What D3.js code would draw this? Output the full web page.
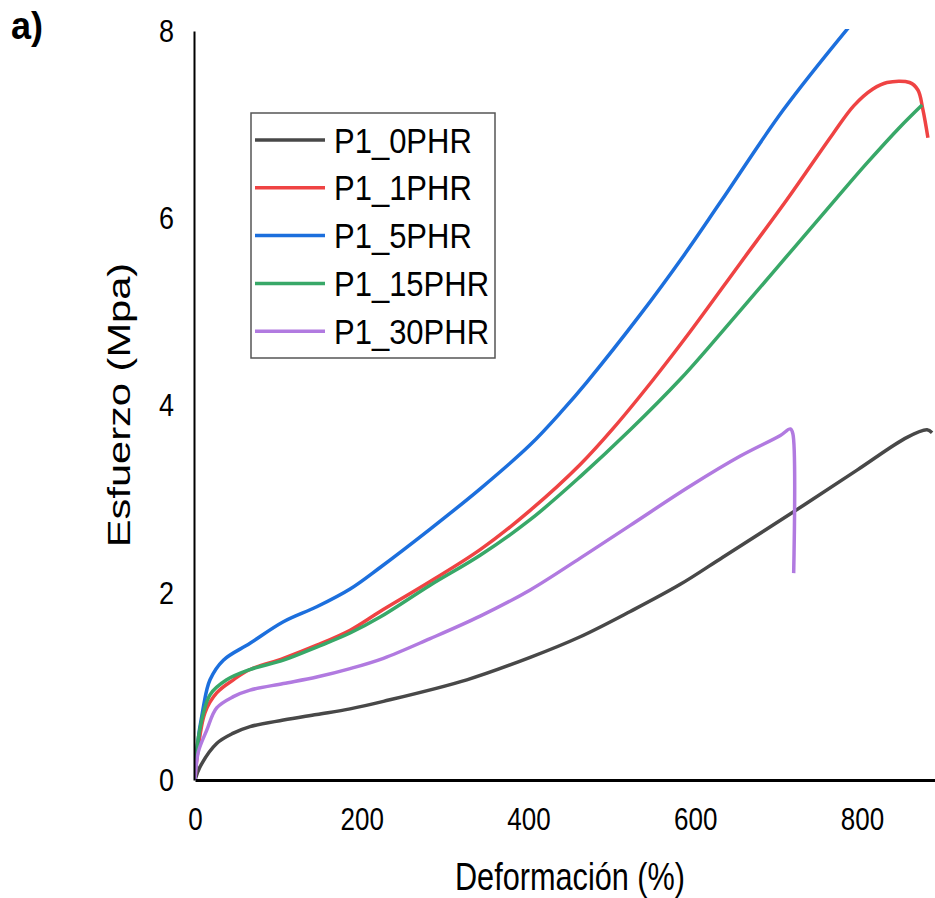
<!DOCTYPE html>
<html>
<head>
<meta charset="utf-8">
<script src="https://cdn.jsdelivr.net/npm/d3@7"></script>
<style>
  body { margin: 0; background: #fff; }
  svg { font-family: "Liberation Sans", Arial, sans-serif; }
</style>
</head>
<body>
<div id="chart"></div>
<script>
// Curves: strain (%) and stress (MPa)
const seriesNames = ['P1_0PHR', 'P1_1PHR', 'P1_5PHR', 'P1_15PHR', 'P1_30PHR'];
const seriesColors = ['#484848', '#ef4343', '#1c6fdd', '#38a868', '#b17ae0'];

const strain0 = [0, 6, 26, 46, 66, 106, 146, 186, 226, 326, 402, 462, 522, 582, 633, 717, 794, 854, 878, 884];
const stress0 = [0, 0.14, 0.39, 0.5, 0.57, 0.64, 0.70, 0.76, 0.84, 1.07, 1.31, 1.53, 1.80, 2.09, 2.38, 2.86, 3.31, 3.66, 3.74, 3.71];

const strain1 = [0, 2, 12, 26, 46, 66, 106, 146, 186, 222, 282, 342, 402, 462, 501, 549, 594, 654, 710, 765, 790, 813, 830, 857, 867, 873, 879];
const stress1 = [0, 0.21, 0.72, 0.93, 1.07, 1.18, 1.30, 1.44, 1.60, 1.80, 2.12, 2.46, 2.88, 3.37, 3.75, 4.27, 4.79, 5.52, 6.20, 6.90, 7.20, 7.38, 7.45, 7.45, 7.37, 7.16, 6.86];

const strain5 = [0, 2, 10, 18, 34, 66, 106, 146, 186, 222, 282, 342, 402, 441, 470, 534, 586, 630, 705, 785];
const stress5 = [0, 0.3, 0.78, 1.07, 1.28, 1.46, 1.69, 1.85, 2.04, 2.27, 2.68, 3.11, 3.58, 3.95, 4.25, 4.97, 5.60, 6.17, 7.15, 8.05];

const strain15 = [0, 4, 18, 38, 66, 106, 146, 186, 222, 282, 342, 402, 462, 522, 582, 614, 693, 770, 805, 845, 872];
const stress15 = [0, 0.45, 0.91, 1.07, 1.18, 1.28, 1.42, 1.57, 1.74, 2.08, 2.40, 2.78, 3.24, 3.74, 4.28, 4.60, 5.42, 6.22, 6.58, 6.97, 7.21];

const strain30 = [0, 4, 14, 26, 46, 66, 106, 146, 186, 226, 282, 342, 402, 462, 522, 594, 654, 702, 714, 717, 718];
const stress30 = [0, 0.3, 0.53, 0.77, 0.89, 0.96, 1.03, 1.10, 1.19, 1.30, 1.51, 1.75, 2.03, 2.37, 2.72, 3.14, 3.46, 3.68, 3.75, 3.70, 2.21];

const xTicks = [0, 200, 400, 600, 800];
const yTicks = [0, 2, 4, 6, 8];

const strains = [strain0, strain1, strain5, strain15, strain30];
const stresses = [stress0, stress1, stress5, stress15, stress30];

const width = 935, height = 898;
const stretch = 1.18; // the original image is a bit taller than wide

const svg = d3.select('#chart')
    .append('svg')
    .attr('width', width)
    .attr('height', height);

const x = d3.scaleLinear().domain([0, 887.5]).range([195, 935]);
const y = d3.scaleLinear().domain([0, 8]).range([780, 31]);

svg.append('clipPath').attr('id', 'plot')
    .append('rect')
    .attr('x', x(0)).attr('y', y(8) - 2)
    .attr('width', width - x(0)).attr('height', y(0) - y(8) + 2);

// Curves
const line = d3.line()
    .x(d => x(d[0]))
    .y(d => y(d[1]))
    .curve(d3.curveCatmullRom.alpha(0.5));

const data = seriesNames.map((name, i) => ({
    name: name,
    color: seriesColors[i],
    points: strains[i].map((s, j) => [s, stresses[i][j]])
}));

svg.append('g')
    .attr('clip-path', 'url(#plot)')
    .selectAll('path')
    .data(data)
    .join('path')
    .attr('d', d => line(d.points))
    .attr('fill', 'none')
    .attr('stroke', d => d.color)
    .attr('stroke-width', 3.5)
    .attr('stroke-linejoin', 'round');

// Axes
const xAxis = svg.append('g')
    .attr('transform', `translate(0, ${y(0)})`)
    .call(d3.axisBottom(x).tickValues(xTicks).tickSize(0).tickSizeOuter(0).tickPadding(0));
xAxis.select('.domain').attr('stroke', '#000').attr('stroke-width', 3);
xAxis.selectAll('text')
    .attr('y', 50 / stretch)
    .attr('dy', 0)
    .attr('transform', `scale(1, ${stretch})`)
    .style('font-size', '26px')
    .attr('fill', '#000');

const yAxis = svg.append('g')
    .attr('transform', `translate(${x(0) - 1}, 0)`)
    .call(d3.axisLeft(y).tickValues(yTicks).tickSize(0).tickSizeOuter(0).tickPadding(0));
yAxis.select('.domain').attr('stroke', '#000').attr('stroke-width', 2);
yAxis.selectAll('.tick')
    .each(function(d) {
        d3.select(this).attr('transform', null);
        d3.select(this).select('text')
            .attr('x', -20)
            .attr('y', (y(d) + 11) / stretch)
            .attr('dy', 0)
            .attr('transform', `scale(1, ${stretch})`)
            .style('font-size', '27px')
            .attr('fill', '#000');
    });

// Axis labels
svg.append('text')
    .attr('transform', `translate(570, 890) scale(0.93, ${stretch})`)
    .attr('text-anchor', 'middle')
    .style('font-size', '33px')
    .text('Deformación (%)');

svg.append('text')
    .attr('transform', `translate(130, 405) scale(1, 1.3) rotate(-90)`)
    .attr('text-anchor', 'middle')
    .style('font-size', '32px')
    .text('Esfuerzo (Mpa)');

svg.append('text')
    .attr('transform', `translate(11, 39) scale(1, 1.08)`)
    .style('font-size', '36px')
    .style('font-weight', 'bold')
    .text('a)');

// Legend
const legend = svg.append('g');
legend.append('rect')
    .attr('x', 251).attr('y', 113)
    .attr('width', 244).attr('height', 245)
    .attr('fill', '#fff')
    .attr('stroke', '#555')
    .attr('stroke-width', 1.5);

const rows = legend.selectAll('g.row')
    .data(data)
    .join('g')
    .attr('class', 'row')
    .attr('transform', (d, i) => `translate(0, ${140 + i * 47.8})`);

rows.append('line')
    .attr('x1', 255).attr('x2', 325)
    .attr('stroke', d => d.color)
    .attr('stroke-width', 3.5);

rows.append('text')
    .attr('transform', `translate(334, 12.5) scale(1, 1.15)`)
    .style('font-size', '31px')
    .text(d => d.name);
</script>
</body>
</html>
